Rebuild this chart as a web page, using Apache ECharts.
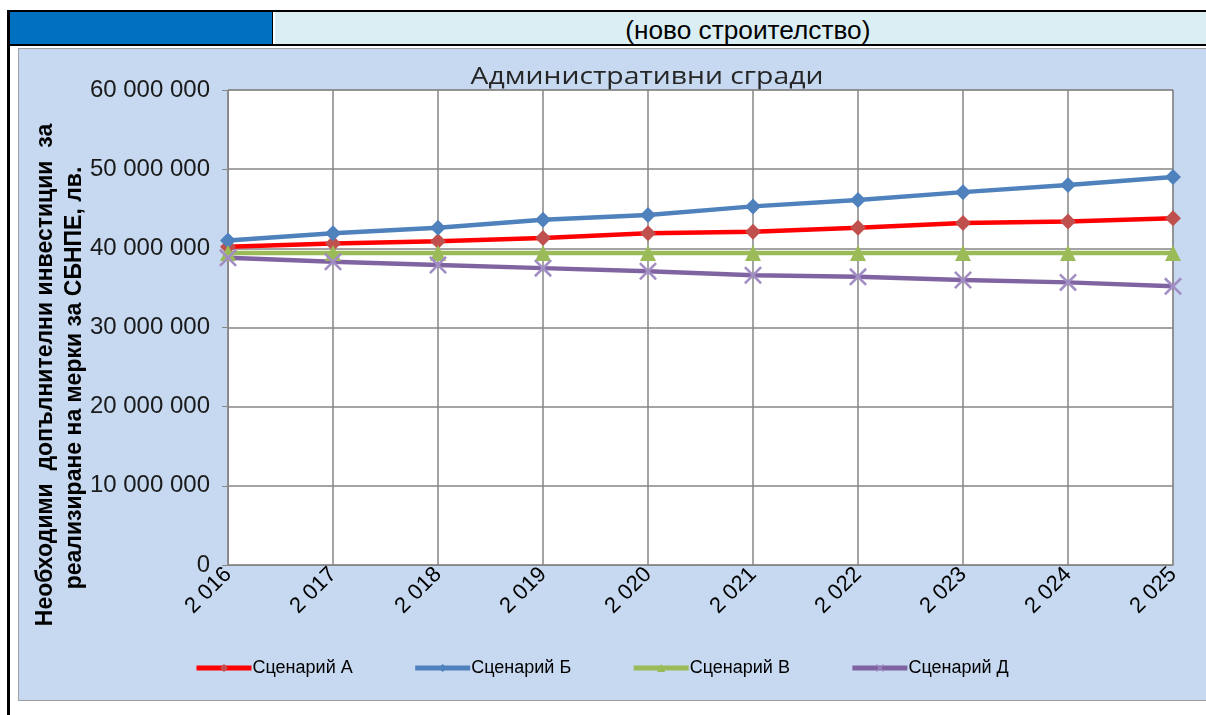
<!DOCTYPE html>
<html>
<head>
<meta charset="utf-8">
<script src="https://cdn.jsdelivr.net/npm/echarts@6/dist/echarts.min.js"></script>
<style>
  body { margin: 0; background: #fff; width: 1206px; height: 715px; position: relative; overflow: hidden; font-family: "Liberation Sans", Arial, sans-serif; }
  .blk { position: absolute; background: #000; }
  #cellDark { position: absolute; left: 10px; top: 12px; width: 262px; height: 32px; background: #0070c0; }
  #cellLight { position: absolute; left: 275px; top: 12px; width: 931px; height: 32px; background: #daeef3;
    font-size: 25px; color: #000; text-align: center; line-height: 36px; }
  #cellLight span { display: inline-block; transform: scaleX(1.05); margin-left: 14px; }
  #frame { position: absolute; left: 18px; top: 48px; width: 1200px; height: 651px; border: 1px solid #a0a0a0; background: #c6d9f0; }
  #main { position: absolute; left: 19px; top: 49px; width: 1187px; height: 650px; }
</style>
</head>
<body>
<div class="blk" style="left:7px;top:10px;width:3px;height:705px"></div>
<div class="blk" style="left:7px;top:10px;width:1199px;height:2px"></div>
<div class="blk" style="left:7px;top:44px;width:1199px;height:2px"></div>
<div class="blk" style="left:272px;top:10px;width:1px;height:35px"></div>
<div id="cellDark"></div>
<div id="cellLight"><span>(ново строителство)</span></div>
<div id="frame"></div>
<div id="main"></div>
<script>
/* данни (лв.) */
var years = [2016, 2017, 2018, 2019, 2020, 2021, 2022, 2023, 2024, 2025];
var scenA = [40200000, 40600000, 40900000, 41300000, 41900000, 42100000, 42600000, 43200000, 43400000, 43800000];
var scenB = [41000000, 41900000, 42600000, 43600000, 44200000, 45300000, 46100000, 47100000, 48000000, 49000000];
var scenV = [39400000, 39400000, 39400000, 39400000, 39400000, 39400000, 39400000, 39400000, 39400000, 39400000];
var scenD = [38800000, 38300000, 37900000, 37500000, 37100000, 36600000, 36400000, 36000000, 35700000, 35200000];
var seriesNames = ['Сценарий А', 'Сценарий Б', 'Сценарий В', 'Сценарий Д'];

// число с интервал за хилядите
function spaced(v) {
  return String(v).replace(/\B(?=(\d{3})+(?!\d))/g, ' ');
}

var crossPath = 'path://M0,1L1,0L10,9L9,10Z M9,0L10,1L1,10L0,9Z';

var chart = echarts.init(document.getElementById('main'));

function lineSeries(name, data, lineColor, markColor, symbol, size) {
  return {
    name: name,
    type: 'line',
    data: data,
    symbol: symbol,
    symbolSize: size,
    showAllSymbol: true,
    lineStyle: { color: lineColor, width: 4.5 },
    itemStyle: { color: markColor },
    emphasis: { disabled: true }
  };
}

chart.setOption({
  animation: false,
  textStyle: { fontFamily: 'Liberation Sans' },
  grid: { left: 209, top: 41, right: 33, bottom: 134, show: true, backgroundColor: '#fff', borderColor: '#868686', borderWidth: 1 },
  legend: {
    left: 170, top: 605,
    itemWidth: 55, itemHeight: 10, itemGap: 60,
    lineStyle: { width: 5 },
    textStyle: { fontSize: 18, color: '#000', padding: [0, 0, 0, -4] },
    data: seriesNames
  },
  xAxis: {
    type: 'category',
    data: years,
    boundaryGap: false,
    axisLine: { lineStyle: { color: '#868686' } },
    axisTick: { show: false },
    splitLine: { show: true, lineStyle: { color: '#868686', width: 1.5 } },
    axisLabel: {
      rotate: 45, margin: 6, fontSize: 22, color: '#000',
      formatter: function (v) { return spaced(v); }
    }
  },
  yAxis: {
    type: 'value',
    min: 0, max: 60000000, interval: 10000000,
    axisLine: { show: true, lineStyle: { color: '#868686' } },
    axisTick: { show: true, inside: false, length: 6, lineStyle: { color: '#868686' } },
    splitLine: { lineStyle: { color: '#868686', width: 1.5 } },
    axisLabel: { margin: 18, fontSize: 24, color: '#1a1a1a', formatter: function (v) { return spaced(v); } }
  },
  graphic: [
    { type: 'text', x: 628, y: 28, scaleX: 1.18, style: { text: 'Административни сгради', font: '24px "Open Sans"', fill: '#262626', textAlign: 'center', textVerticalAlign: 'middle' } },
    { type: 'text', x: 27, y: 326, rotation: Math.PI / 2, style: { text: 'Необходими  допълнителни инвестиции  за', font: 'bold 23px "Liberation Sans"', fill: '#000', textAlign: 'center', textVerticalAlign: 'middle' } },
    { type: 'text', x: 56, y: 329, rotation: Math.PI / 2, style: { text: 'реализиране на мерки за СБНПЕ, лв.', font: 'bold 23px "Liberation Sans"', fill: '#000', textAlign: 'center', textVerticalAlign: 'middle' } }
  ],
  series: [
    lineSeries(seriesNames[0], scenA, '#ff0000', '#c0504d', 'diamond', 16),
    lineSeries(seriesNames[1], scenB, '#4f81bd', '#4f81bd', 'diamond', 16),
    lineSeries(seriesNames[2], scenV, '#9bbb59', '#9bbb59', 'triangle', 16),
    lineSeries(seriesNames[3], scenD, '#8064a2', '#a28ec4', crossPath, 18)
  ]
});
</script>
</body>
</html>
